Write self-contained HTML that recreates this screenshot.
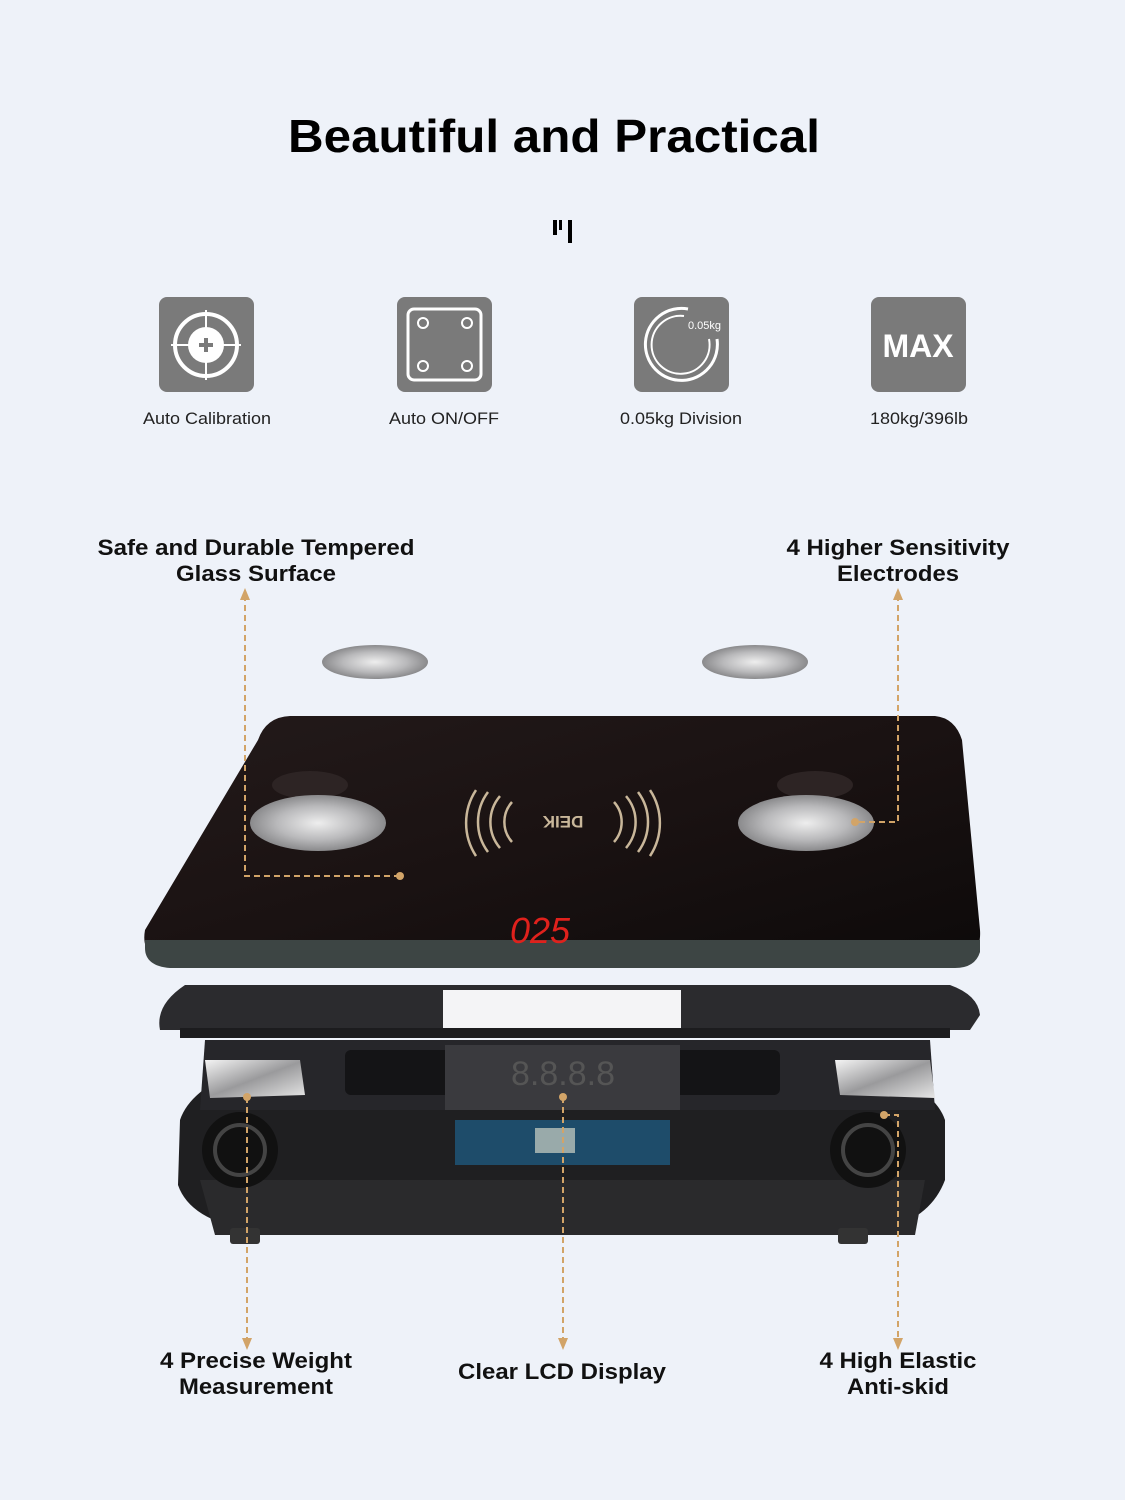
<!DOCTYPE html>
<html><head><meta charset="utf-8"><style>
html,body{margin:0;padding:0;background:#eef2f9;}
svg{display:block}
text{font-family:"Liberation Sans",Arial,sans-serif}
</style></head><body>
<svg width="1125" height="1500" viewBox="0 0 1125 1500" xmlns="http://www.w3.org/2000/svg">
<defs>
<radialGradient id="met" cx="50%" cy="50%" r="50%">
<stop offset="0" stop-color="#eee"/><stop offset="0.6" stop-color="#b9b9bb"/><stop offset="1" stop-color="#8a8a8c"/>
</radialGradient>
<linearGradient id="met2" x1="0" y1="0" x2="1" y2="1">
<stop offset="0" stop-color="#f4f4f4"/><stop offset="0.5" stop-color="#9a9a9c"/><stop offset="1" stop-color="#e6e6e6"/>
</linearGradient>
<linearGradient id="glass" x1="0" y1="0" x2="1" y2="1">
<stop offset="0" stop-color="#231a1a"/><stop offset="0.5" stop-color="#1a1212"/><stop offset="1" stop-color="#0d0a0a"/>
</linearGradient>
</defs>
<rect width="1125" height="1500" fill="#eef2f9"/>
<text x="554" y="152" font-size="46" font-weight="bold" text-anchor="middle" fill="#000" textLength="532" lengthAdjust="spacingAndGlyphs">Beautiful and Practical</text>
<rect x="553" y="220" width="4" height="15" fill="#000"/><rect x="559" y="220" width="3" height="10" fill="#000"/><rect x="568" y="220" width="4" height="23" fill="#000"/>

<g>
<rect x="159" y="297" width="95" height="95" rx="8" fill="#7a7a7a"/>
<circle cx="206" cy="345" r="31" fill="none" stroke="#fff" stroke-width="4"/>
<circle cx="206" cy="345" r="18" fill="#fff"/>
<line x1="171" y1="345" x2="241" y2="345" stroke="#fff" stroke-width="2"/>
<line x1="206" y1="310" x2="206" y2="380" stroke="#fff" stroke-width="2"/>
<rect x="199" y="343" width="14" height="4" fill="#7a7a7a"/><rect x="204" y="338" width="4" height="14" fill="#7a7a7a"/>
<text x="207" y="424" font-size="17" text-anchor="middle" fill="#222" textLength="128" lengthAdjust="spacingAndGlyphs">Auto Calibration</text>

<rect x="397" y="297" width="95" height="95" rx="8" fill="#7a7a7a"/>
<rect x="408" y="309" width="73" height="71" rx="6" fill="none" stroke="#fff" stroke-width="3"/>
<circle cx="423" cy="323" r="5" fill="none" stroke="#fff" stroke-width="2"/><circle cx="467" cy="323" r="5" fill="none" stroke="#fff" stroke-width="2"/>
<circle cx="423" cy="366" r="5" fill="none" stroke="#fff" stroke-width="2"/><circle cx="467" cy="366" r="5" fill="none" stroke="#fff" stroke-width="2"/>
<text x="444" y="424" font-size="17" text-anchor="middle" fill="#222" textLength="110" lengthAdjust="spacingAndGlyphs">Auto ON/OFF</text>

<rect x="634" y="297" width="95" height="95" rx="8" fill="#7a7a7a"/>
<path d="M688 309 A36 36 0 1 0 717 339" fill="none" stroke="#fff" stroke-width="3"/>
<path d="M684 316 A29 29 0 1 0 709 339" fill="none" stroke="#fff" stroke-width="2"/>
<text x="688" y="329" font-size="11" fill="#fff">0.05kg</text>
<text x="681" y="424" font-size="17" text-anchor="middle" fill="#222" textLength="122" lengthAdjust="spacingAndGlyphs">0.05kg Division</text>

<rect x="871" y="297" width="95" height="95" rx="8" fill="#7a7a7a"/>
<text x="918" y="357" font-size="32" font-weight="bold" text-anchor="middle" fill="#fff">MAX</text>
<text x="919" y="424" font-size="17" text-anchor="middle" fill="#222" textLength="98" lengthAdjust="spacingAndGlyphs">180kg/396lb</text>
</g>

<g font-size="22" font-weight="bold" fill="#111" text-anchor="middle">
<text x="256" y="555" textLength="317" lengthAdjust="spacingAndGlyphs">Safe and Durable Tempered</text><text x="256" y="581" textLength="160" lengthAdjust="spacingAndGlyphs">Glass Surface</text>
<text x="898" y="555" textLength="223" lengthAdjust="spacingAndGlyphs">4 Higher Sensitivity</text><text x="898" y="581" textLength="122" lengthAdjust="spacingAndGlyphs">Electrodes</text>
<text x="256" y="1368" textLength="192" lengthAdjust="spacingAndGlyphs">4 Precise Weight</text><text x="256" y="1394" textLength="154" lengthAdjust="spacingAndGlyphs">Measurement</text>
<text x="562" y="1379" textLength="208" lengthAdjust="spacingAndGlyphs">Clear LCD Display</text>
<text x="898" y="1368" textLength="157" lengthAdjust="spacingAndGlyphs">4 High Elastic</text><text x="898" y="1394" textLength="102" lengthAdjust="spacingAndGlyphs">Anti-skid</text>
</g>

<ellipse cx="375" cy="662" rx="53" ry="17" fill="url(#met)"/>
<ellipse cx="755" cy="662" rx="53" ry="17" fill="url(#met)"/>

<path d="M180 1120 Q190 1090 240 1070 L880 1070 Q935 1090 945 1120 L945 1180 Q930 1220 880 1230 L250 1230 Q190 1220 178 1185 Z" fill="#1f1f21"/>
<path d="M200 1180 L925 1180 L915 1235 L215 1235 Z" fill="#2a2a2c"/>
<rect x="230" y="1228" width="30" height="16" rx="3" fill="#333"/><rect x="838" y="1228" width="30" height="16" rx="3" fill="#333"/>
<circle cx="240" cy="1150" r="38" fill="#111"/><circle cx="240" cy="1150" r="25" fill="none" stroke="#444" stroke-width="4"/>
<circle cx="868" cy="1150" r="38" fill="#111"/><circle cx="868" cy="1150" r="25" fill="none" stroke="#444" stroke-width="4"/>
<path d="M205 1040 L930 1040 L935 1110 L200 1110 Z" fill="#26262a"/>
<rect x="345" y="1050" width="110" height="45" rx="6" fill="#141416"/>
<rect x="670" y="1050" width="110" height="45" rx="6" fill="#141416"/>
<rect x="455" y="1120" width="215" height="45" fill="#1e4c6a"/>
<rect x="535" y="1128" width="40" height="25" fill="#9aa"/>
<rect x="445" y="1045" width="235" height="65" fill="#3a3a3e"/>
<text x="563" y="1085" font-size="34" font-family="Liberation Mono" text-anchor="middle" fill="#555">8.8.8.8</text>
<path d="M205 1060 L300 1060 L305 1095 L210 1098 Z" fill="url(#met2)"/>
<path d="M835 1060 L930 1060 L935 1098 L840 1095 Z" fill="url(#met2)"/>
<path d="M185 985 L950 985 Q978 995 980 1015 L970 1030 L160 1030 Q155 1005 185 985 Z" fill="#2b2b2e"/>
<rect x="443" y="990" width="238" height="40" fill="#f4f4f6"/>
<rect x="180" y="1028" width="770" height="10" fill="#1c1c1e"/>

<path d="M290 716 L935 716 Q955 718 962 740 L980 930 Q982 958 955 962 L170 962 Q140 958 145 930 L258 740 Q266 717 290 716 Z" fill="url(#glass)"/>
<path d="M145 940 L980 940 L980 952 Q975 968 955 968 L170 968 Q145 966 145 948 Z" fill="#3d4544"/>
<ellipse cx="310" cy="785" rx="38" ry="14" fill="#2d2424"/>
<ellipse cx="815" cy="785" rx="38" ry="14" fill="#2d2424"/>
<ellipse cx="318" cy="823" rx="68" ry="28" fill="url(#met)"/>
<ellipse cx="806" cy="823" rx="68" ry="28" fill="url(#met)"/>
<text x="563" y="828" font-size="17" font-weight="bold" text-anchor="middle" fill="#c9b79a" transform="rotate(180 563 822)">DEIK</text>
<g fill="none" stroke="#c9b79a" stroke-width="2.5">
<path d="M512 802 A30 30 0 0 0 512 842"/><path d="M500 796 A40 40 0 0 0 500 848"/><path d="M488 792 A50 50 0 0 0 488 852"/><path d="M476 790 A60 60 0 0 0 476 856"/>
<path d="M614 802 A30 30 0 0 1 614 842"/><path d="M626 796 A40 40 0 0 1 626 848"/><path d="M638 792 A50 50 0 0 1 638 852"/><path d="M650 790 A60 60 0 0 1 650 856"/>
</g>
<text x="540" y="943" font-size="36" font-family="Liberation Mono" text-anchor="middle" fill="#e0211c" font-style="italic">025</text>

<g fill="none" stroke="#d2a468" stroke-width="2" stroke-dasharray="6,4">
<path d="M245 595 L245 876 L400 876"/>
<path d="M898 595 L898 822 L855 822"/>
<path d="M247 1097 L247 1340"/>
<path d="M563 1097 L563 1340"/>
<path d="M884 1115 L898 1115 L898 1340"/>
</g>
<g fill="#d2a468">
<circle cx="400" cy="876" r="4"/><circle cx="855" cy="822" r="4"/><circle cx="247" cy="1097" r="4"/><circle cx="563" cy="1097" r="4"/><circle cx="884" cy="1115" r="4"/>
<path d="M240 600 L245 588 L250 600 Z"/><path d="M893 600 L898 588 L903 600 Z"/>
<path d="M242 1338 L247 1350 L252 1338 Z"/><path d="M558 1338 L563 1350 L568 1338 Z"/><path d="M893 1338 L898 1350 L903 1338 Z"/>
</g>
</svg>
</body></html>
